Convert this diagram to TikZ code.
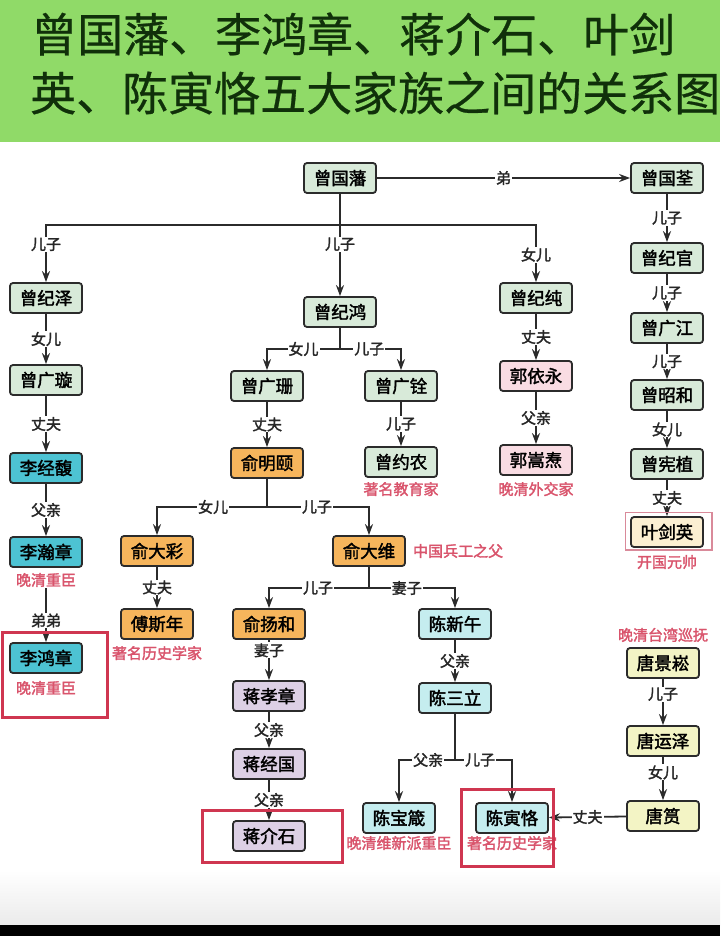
\documentclass[tikz,border=0pt]{standalone}
\usepackage{fontspec}
\setmainfont{Noto Sans CJK SC}
\newfontfamily\boxfont{Noto Sans CJK SC}[FakeBold=2]
\newfontfamily\titlefont{Noto Sans CJK SC}[FakeBold=0.6]
\usetikzlibrary{positioning,arrows.meta}

\definecolor{titlegreen}{HTML}{90DA68}
\definecolor{titletext}{HTML}{10300A}
\definecolor{boxline}{HTML}{2B2B2B}
\definecolor{zengfill}{HTML}{D8EAD9}
\definecolor{lifill}{HTML}{4DC3D3}
\definecolor{yufill}{HTML}{F6B55C}
\definecolor{jiangfill}{HTML}{DDD0E5}
\definecolor{chenfill}{HTML}{C5EDEF}
\definecolor{guofill}{HTML}{F9DCE3}
\definecolor{tangfill}{HTML}{F3F4C5}
\definecolor{yefill}{HTML}{FBEFD2}
\definecolor{yeline}{HTML}{D98A9A}
\definecolor{notered}{HTML}{D9546C}
\definecolor{framered}{HTML}{CF3650}

\begin{document}
\begin{tikzpicture}[x=1pt,y=-1pt]

	\tikzstyle{box} = [rectangle, rounded corners=3pt, minimum width=72pt, minimum height=30pt, inner sep=0pt, text centered, draw=boxline, line width=1.8pt, font=\boxfont\fontsize{17.5}{20}\selectfont]
	\tikzstyle{zeng} = [box, fill=zengfill]
	\tikzstyle{li} = [box, fill=lifill]
	\tikzstyle{yu} = [box, fill=yufill]
	\tikzstyle{jiang} = [box, fill=jiangfill]
	\tikzstyle{chen} = [box, fill=chenfill]
	\tikzstyle{guo} = [box, fill=guofill]
	\tikzstyle{tang} = [box, fill=tangfill]
	\tikzstyle{ye} = [box, fill=yefill]
	\tikzstyle{lbl} = [fill=white, inner sep=1pt, text=black!85, font=\boxfont\fontsize{15}{17}\selectfont]
	\tikzstyle{note} = [inner sep=1pt, text=notered, font=\boxfont\fontsize{15}{17}\selectfont]
	\tikzstyle{arrow} = [draw=boxline, line width=1.8pt, ->, >={Stealth[length=11pt,width=8pt]}]
	\tikzstyle{link} = [draw=boxline, line width=1.8pt]
	\tikzstyle{hilite} = [draw=framered, line width=3pt]
	\tikzstyle{titleline} = [anchor=west, inner sep=0pt, text=titletext, font=\titlefont\fontsize{46}{50}\selectfont]

	% background and title
	\fill[white] (0,0) rectangle (720,936);
	\fill[titlegreen] (0,0) rectangle (720,142);
	\shade[top color=white, bottom color=black!8] (0,870) rectangle (720,925);
	\fill[black] (0,925) rectangle (720,936);
	\node (title1) [titleline] at (31,34) {曾国藩、李鸿章、蒋介石、叶剑};
	\node (title2) [titleline] at (30,93) {英、陈寅恪五大家族之间的关系图};

	% Zeng family
	\node (zgf) [zeng] at (340,178) {曾国藩};
	\node (zgq) [zeng] at (667,178) {曾国荃};
	\node (zjz) [zeng] at (46,298) {曾纪泽};
	\node (zjh) [zeng] at (340,312) {曾纪鸿};
	\node (zjc) [zeng] at (536,298) {曾纪纯};
	\node (zgx) [zeng] at (46,380) {曾广璇};
	\node (zgs) [zeng] at (267,386) {曾广珊};
	\node (zgqn) [zeng] at (401,386) {曾广铨};
	\node (zyn) [zeng] at (401,462) {曾约农};
	\node (zjg) [zeng] at (667,258) {曾纪官};
	\node (zgj) [zeng] at (667,328) {曾广江};
	\node (zzh) [zeng] at (667,395) {曾昭和};
	\node (zxz) [zeng] at (667,464) {曾宪植};
	\node (yjy) [ye] at (667,532) {叶剑英};

	% Guo, Li, Yu, Jiang, Chen, Tang
	\node (gyy) [guo] at (536,376) {郭依永};
	\node (gst) [guo] at (536,460) {郭嵩焘};
	\node (ljf) [li] at (46,468) {李经馥};
	\node (lhz) [li] at (46,552) {李瀚章};
	\node (lhzg) [li] at (46,658) {李鸿章};
	\node (ymy) [yu] at (267,463) {俞明颐};
	\node (ydc) [yu] at (157,551) {俞大彩};
	\node (ydw) [yu] at (369,551) {俞大维};
	\node (fsn) [yu] at (157,624) {傅斯年};
	\node (yyh) [yu] at (269,624) {俞扬和};
	\node (jxz) [jiang] at (269,696) {蒋孝章};
	\node (jjg) [jiang] at (269,764) {蒋经国};
	\node (jjs) [jiang] at (269,836) {蒋介石};
	\node (cxw) [chen] at (455,624) {陈新午};
	\node (csl) [chen] at (455,698) {陈三立};
	\node (cbz) [chen] at (399,818) {陈宝箴};
	\node (cyk) [chen] at (512,818) {陈寅恪};
	\node (tjs) [tang] at (663,663) {唐景崧};
	\node (tyz) [tang] at (663,741) {唐运泽};
	\node (ty) [tang] at (663,816) {唐筼};

	% notes
	\node (zynn) [note, below=3pt of zyn] {著名教育家};
	\node (gstn) [note, below=5pt of gst] {晚清外交家};
	\node (yjyn) [note, below=6pt of yjy] {开国元帅};
	\node (lhzn) [note, below=4pt of lhz] {晚清重臣};
	\node (lhzgn) [note, below=6pt of lhzg] {晚清重臣};
	\node (fsnn) [note, below=5pt of fsn] {著名历史学家};
	\node (ydwn) [note, right=6pt of ydw] {中国兵工之父};
	\node (cbzn) [note, below=1pt of cbz] {晚清维新派重臣};
	\node (cykn) [note, below=1pt of cyk] {著名历史学家};
	\node (tjsn) [note, above=4pt of tjs] {晚清台湾巡抚};

	% branch points
	\coordinate (b0) at (340,225);
	\coordinate (b1) at (340,349);
	\coordinate (b2) at (267,507);
	\coordinate (b3) at (369,588);
	\coordinate (b4) at (455,760);

	% connectors
	\draw[arrow] (zgf) -- node[lbl]{弟} (zgq);
	\draw[link] (zgf) -- (b0);
	\draw[arrow] (b0) -| node[lbl,pos=0.67]{儿子} (zjz);
	\draw[arrow] (b0) -- node[lbl,pos=0.27]{儿子} (zjh);
	\draw[arrow] (b0) -| node[lbl,pos=0.76]{女儿} (zjc);
	\draw[arrow] (zjz) -- node[lbl]{女儿} (zgx);
	\draw[arrow] (zgx) -- node[lbl]{丈夫} (ljf);
	\draw[arrow] (ljf) -- node[lbl]{父亲} (lhz);
	\draw[arrow] (lhzn) -- node[lbl,pos=0.6]{弟弟} (lhzg);
	\draw[link] (zjh) -- (b1);
	\draw[arrow] (b1) -| node[lbl,pos=0.25]{女儿} (zgs);
	\draw[arrow] (b1) -| node[lbl,pos=0.24]{儿子} (zgqn);
	\draw[arrow] (zgs) -- node[lbl]{丈夫} (ymy);
	\draw[arrow] (zgqn) -- node[lbl]{儿子} (zyn);
	\draw[arrow] (zjc) -- node[lbl]{丈夫} (gyy);
	\draw[arrow] (gyy) -- node[lbl]{父亲} (gst);
	\draw[arrow] (zgq) -- node[lbl]{儿子} (zjg);
	\draw[arrow] (zjg) -- node[lbl]{儿子} (zgj);
	\draw[arrow] (zgj) -- node[lbl]{儿子} (zzh);
	\draw[arrow] (zzh) -- node[lbl]{女儿} (zxz);
	\draw[arrow] (zxz) -- node[lbl]{丈夫} (yjy);
	\draw[link] (ymy) -- (b2);
	\draw[arrow] (b2) -| node[lbl,pos=0.245]{女儿} (ydc);
	\draw[arrow] (b2) -| node[lbl,pos=0.245]{儿子} (ydw);
	\draw[arrow] (ydc) -- node[lbl]{丈夫} (fsn);
	\draw[link] (ydw) -- (b3);
	\draw[arrow] (b3) -| node[lbl,pos=0.255]{儿子} (yyh);
	\draw[arrow] (b3) -| node[lbl,pos=0.22]{妻子} (cxw);
	\draw[arrow] (yyh) -- node[lbl,pos=0.26]{妻子} (jxz);
	\draw[arrow] (jxz) -- node[lbl]{父亲} (jjg);
	\draw[arrow] (jjg) -- node[lbl]{父亲} (jjs);
	\draw[arrow] (cxw) -- node[lbl]{父亲} (csl);
	\draw[link] (csl) -- (b4);
	\draw[arrow] (b4) -| node[lbl,pos=0.24]{父亲} (cbz);
	\draw[arrow] (b4) -| node[lbl,pos=0.22]{儿子} (cyk);
	\draw[arrow] (tjs) -- node[lbl,pos=0.33]{儿子} (tyz);
	\draw[arrow] (tyz) -- node[lbl,pos=0.36]{女儿} (ty);
	\draw[arrow] (ty) -- node[lbl]{丈夫} (cyk);

	% highlight frames
	\draw[yeline, line width=1.2pt] ([shift={(-5,-4)}]yjy.north west) rectangle ([shift={(8,2)}]yjy.south east);
	\draw[hilite] (2,632) rectangle (107,717);
	\draw[hilite] (202,810) rectangle (342,862);
	\draw[hilite] (461,789) rectangle (553,866);

\end{tikzpicture}
\end{document}
